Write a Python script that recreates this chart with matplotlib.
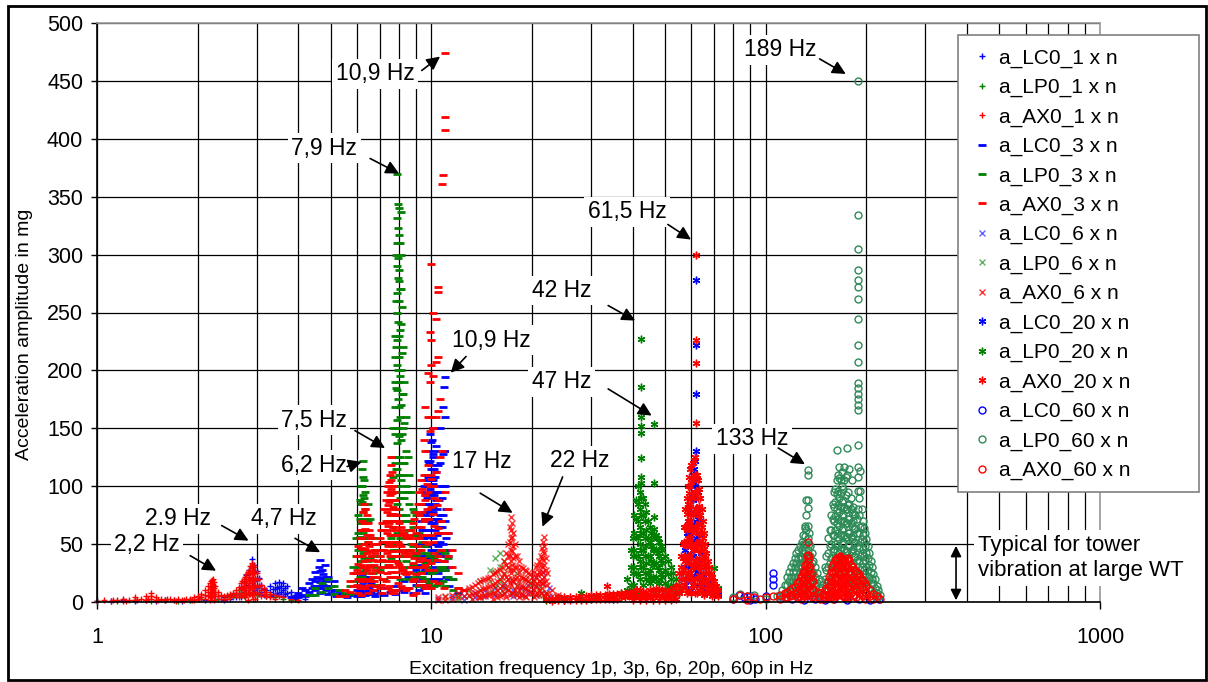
import matplotlib
matplotlib.use("Agg")
import matplotlib.pyplot as plt
from matplotlib.patches import Rectangle
from matplotlib.ticker import FixedLocator, LogLocator, NullFormatter

plt.rcParams['font.family'] = ['Liberation Sans', 'DejaVu Sans']

# each series: (frequency in Hz, [amplitudes in mg read at that frequency])
lc0_1 = [(1.0, [1]), (1.1, [1]), (1.2, [2]), (1.3, [1]), (1.4, [2]), (1.5, [1]), (1.6, [2]),
         (1.7, [2]), (1.8, [1]), (1.9, [2]), (2.0, [3]), (2.1, [2]), (2.2, [4]), (2.3, [3]),
         (2.4, [4, 2]), (2.5, [6, 3]), (2.6, [8, 4]), (2.7, [13, 8, 4]), (2.75, [17, 10]),
         (2.8, [23, 15, 8]), (2.85, [28, 20, 12]), (2.9, [37, 31, 24, 16, 8]),
         (2.95, [32, 26, 18, 10]), (3.0, [27, 20, 12]), (3.05, [21, 14, 7]), (3.1, [15, 9]),
         (3.15, [11, 6]), (3.2, [10, 5]), (3.3, [14, 9, 5]), (3.35, [11, 6]), (3.4, [16, 11, 6]),
         (3.45, [13, 8]), (3.5, [17, 12, 7]), (3.55, [14, 9]), (3.6, [16, 10, 5]), (3.65, [12, 7]),
         (3.7, [14, 8]), (3.8, [9, 5]), (3.9, [6, 3]), (4.0, [4]), (4.2, [3])]
lp0_1 = [(1.0, [1]), (1.15, [1]), (1.3, [2]), (1.45, [1]), (1.6, [2]), (1.75, [1]), (1.9, [2]),
         (2.05, [3]), (2.3, [3]), (2.45, [5]), (2.55, [7, 4]), (2.65, [10, 6]), (2.75, [9, 5]),
         (2.85, [7]), (3.0, [6]), (3.2, [5]), (3.4, [4]), (3.6, [3]), (3.8, [2])]
ax0_1 = [(1.0, [1]), (1.05, [2]), (1.1, [1]), (1.15, [2]), (1.2, [3, 1]), (1.25, [2]), (1.3, [4, 2]),
         (1.35, [3]), (1.4, [5, 2]), (1.45, [8, 5, 3]), (1.5, [4, 2]), (1.55, [3]), (1.6, [2]),
         (1.65, [3]), (1.7, [2]), (1.75, [3]), (1.8, [2]), (1.85, [3]), (1.9, [3]), (1.95, [4, 2]),
         (2.0, [5, 3]), (2.05, [7, 4]), (2.1, [10, 6, 3]), (2.15, [14, 9, 5]), (2.2, [18, 13, 8, 4]),
         (2.23, [20, 15, 10]), (2.26, [14, 9, 5]), (2.3, [9, 5]), (2.35, [6, 3]), (2.4, [5, 3]),
         (2.45, [6, 3]), (2.5, [7, 4]), (2.55, [8, 5]), (2.6, [10, 6]), (2.65, [13, 8, 4]),
         (2.7, [16, 11, 6]), (2.75, [20, 14, 8]), (2.8, [24, 18, 12, 6]), (2.85, [28, 22, 16, 10]),
         (2.9, [34, 29, 24, 18, 12, 6]), (2.95, [30, 25, 19, 13, 7]), (3.0, [25, 19, 13, 7]),
         (3.05, [20, 14, 8]), (3.1, [15, 10, 5]), (3.15, [12, 7]), (3.2, [9, 5]), (3.3, [7, 4]),
         (3.4, [6, 3]), (3.5, [5]), (3.6, [4]), (3.8, [3]), (4.0, [2]),
         (2.87, [31, 25, 19, 13, 7]), (2.92, [32, 27, 21, 15, 9, 3]), (2.97, [27, 21, 15, 9, 3]),
         (2.83, [26, 20, 14, 8, 2]), (2.78, [22, 16, 10, 4]), (2.72, [18, 12, 6]),
         (2.18, [16, 11, 6, 2]), (2.21, [19, 14, 9, 4]), (2.24, [17, 12, 7, 2]), (1.12, [2]),
         (1.22, [1]), (1.32, [2]), (1.42, [3]), (1.52, [2]), (1.62, [3]), (1.72, [1]), (1.82, [2]),
         (1.92, [2]), (2.02, [3])]

lc0_3 = [(3.8, [4]), (4.0, [8, 4]), (4.1, [12, 6]), (4.2, [10, 5]), (4.3, [16, 9]), (4.4, [20, 12, 6]),
         (4.45, [14]), (4.5, [26, 18, 10]), (4.55, [22, 14]), (4.6, [30, 21, 12]),
         (4.65, [36, 27, 17, 8]), (4.7, [28, 20, 12]), (4.75, [24, 15]), (4.8, [32, 22, 13]),
         (4.85, [18, 10]), (4.9, [22, 14, 7]), (5.0, [14, 8]), (5.1, [18, 10]), (5.2, [10, 5]),
         (5.3, [8]), (5.4, [6]), (5.6, [4]), (5.8, [6]), (6.0, [10, 5]), (6.1, [18, 10]),
         (6.2, [24, 15, 8]), (6.3, [20, 12]), (6.4, [14, 7]), (6.5, [22, 13]), (6.6, [16, 9]),
         (6.8, [10, 5]), (7.0, [8]), (7.2, [12, 6]), (7.5, [9]), (7.8, [14, 7]), (8.0, [10]),
         (8.3, [18, 9]), (8.5, [22, 12]), (8.8, [30, 18, 8]), (9.0, [42, 28, 15]),
         (9.2, [55, 38, 22, 10]), (9.3, [70, 50, 30]), (9.4, [85, 62, 40, 20]),
         (9.5, [100, 78, 55, 32, 12]), (9.6, [92, 72, 50, 28]), (9.7, [110, 90, 70, 48, 25]),
         (9.8, [130, 108, 85, 62, 38, 15]), (9.85, [120, 95, 70]),
         (9.9, [145, 122, 98, 75, 50, 25]), (9.95, [105, 80]),
         (10.0, [160, 138, 115, 92, 68, 45, 20]), (10.05, [140, 118, 95, 72, 50, 28]),
         (10.1, [125, 102, 78, 55, 30]), (10.15, [150, 128, 105, 82]),
         (10.2, [115, 92, 68, 45, 20]), (10.3, [95, 72, 50, 28]), (10.35, [135, 112, 88]),
         (10.4, [80, 58, 35]), (10.5, [70, 48, 25]), (10.6, [100, 75, 52, 30]), (10.7, [60, 40, 18]),
         (10.8, [168, 45]), (10.9, [186, 35]), (11.0, [194, 28]), (11.1, [45, 22]), (11.3, [30, 14]),
         (11.5, [20]), (12.0, [8]),
         (6.05, [14, 7]), (6.15, [20, 12, 5]), (6.25, [26, 17, 9]), (6.35, [22, 14, 6]),
         (6.45, [18, 10]), (6.7, [14, 7]), (9.25, [48, 32, 18]), (9.45, [75, 55, 35, 15]),
         (9.55, [95, 72, 50, 28, 8]), (9.65, [105, 85, 62, 40, 18]),
         (9.75, [122, 100, 78, 56, 34, 12]), (10.25, [130, 108, 85, 62, 40, 18]),
         (10.45, [118, 95, 72, 50, 28]), (10.55, [88, 65, 42, 20]), (10.65, [150, 120, 95, 70, 45]),
         (10.75, [90, 65, 40]), (10.85, [128, 100, 75, 50]), (10.95, [160, 130, 100, 70, 45]),
         (11.05, [80, 55, 30]), (11.2, [60, 40, 20])]
lp0_3 = [(4.3, [6]), (4.5, [12, 6]), (4.7, [16, 9]), (4.9, [20, 12]), (5.1, [14, 7]), (5.3, [10]),
         (5.5, [8]), (5.7, [14, 7]), (5.85, [30, 18]), (5.95, [55, 40, 25]), (6.05, [75, 60, 45, 30]),
         (6.15, [100, 85, 68, 50, 35]), (6.25, [122, 108, 92, 78, 60, 42, 25]),
         (6.35, [95, 80, 62, 45, 28]), (6.45, [85, 70, 52, 35]), (6.55, [72, 55, 38, 20]),
         (6.7, [55, 40, 25]), (6.85, [45, 30, 15]), (7.0, [40, 28]), (7.2, [52, 35, 20]),
         (7.4, [70, 50, 32]), (7.55, [95, 75, 55, 38]), (7.7, [150, 125, 108, 88, 65, 45]),
         (7.8, [230, 212, 190, 168, 145, 120, 95, 70, 50]),
         (7.9, [370, 332, 310, 290, 267, 250, 226, 205, 183, 157, 137, 115, 85, 60, 35]),
         (7.95, [344, 323, 297, 280, 242, 200, 175, 150, 125, 100, 75]),
         (8.0, [340, 317, 287, 277, 260, 230, 212, 190, 168, 143, 110, 80]),
         (8.1, [337, 300, 270, 240, 200, 170, 140, 105, 70, 40]),
         (8.25, [220, 180, 150, 120, 95, 70, 45]), (8.4, [160, 130, 100, 75, 55, 35]),
         (8.6, [110, 85, 62, 45, 30]), (8.8, [80, 65, 48, 32]), (9.0, [75, 58, 40, 25]),
         (9.2, [60, 45, 30]), (9.4, [52, 38, 22]), (9.7, [42, 30, 18]), (10.0, [35, 25, 12]),
         (10.4, [40, 28, 15]), (10.8, [45, 30, 18]), (11.2, [38, 22]), (11.6, [20, 10]), (12.0, [12]),
         (7.85, [300, 260, 220, 185, 150, 115, 80, 45]),
         (8.05, [310, 270, 235, 195, 160, 125, 90, 55, 20]),
         (8.15, [255, 215, 180, 145, 110, 75, 40]), (8.3, [190, 155, 120, 90, 60, 30]),
         (8.5, [125, 95, 70, 45, 20]), (8.7, [95, 70, 50, 30]), (8.9, [78, 58, 40, 22]),
         (6.2, [115, 100, 86, 70, 55, 40, 22]), (6.3, [105, 90, 72, 55, 38, 20]),
         (6.1, [88, 72, 56, 40, 22]), (9.1, [65, 48, 30, 14]), (9.3, [58, 42, 26]),
         (9.55, [48, 34, 20]), (9.85, [40, 28, 16]), (10.2, [38, 26, 14]), (10.6, [44, 30, 16]),
         (11.0, [42, 28, 14])]
ax0_3 = [(5.3, [5]), (5.5, [10, 5]), (5.7, [18, 9]), (5.85, [25, 14]), (6.0, [40, 28, 15]),
         (6.1, [55, 40, 25, 12]), (6.2, [70, 55, 40, 25]), (6.3, [85, 68, 50, 35, 20]),
         (6.4, [75, 58, 42, 28]), (6.5, [62, 48, 32, 18]), (6.6, [55, 40, 25]), (6.75, [45, 32, 18]),
         (6.9, [50, 35, 22]), (7.05, [62, 45, 30, 15]), (7.2, [80, 62, 45, 30]),
         (7.35, [95, 78, 60, 42, 25]), (7.5, [110, 92, 75, 58, 40, 22]),
         (7.6, [125, 105, 88, 70, 52, 35]), (7.7, [100, 82, 65, 48, 30]), (7.8, [88, 70, 52, 35]),
         (7.9, [75, 58, 40, 22]), (8.0, [68, 50, 32]), (8.15, [62, 45, 28]), (8.3, [58, 42, 25]),
         (8.5, [55, 40, 25]), (8.7, [62, 45, 30]), (8.9, [72, 55, 38, 20]), (9.1, [85, 65, 48, 30]),
         (9.3, [105, 85, 65, 45, 25]), (9.5, [140, 110, 70, 30]),
         (9.6, [168, 130, 88]), (9.75, [198, 160, 118, 72]),
         (9.9, [233, 190, 148, 100]), (10.0, [292, 226, 205, 160, 110]),
         (10.15, [250, 195, 150, 100]), (10.3, [244, 207, 160, 112]),
         (10.45, [272, 268, 212, 165]), (10.6, [175, 125]),
         (10.75, [361, 130]), (10.8, [369]), (11.0, [474, 419, 408, 95]),
         (11.2, [80, 60, 40]), (11.5, [45, 30]), (12.0, [25, 12]), (12.5, [10]),
         (6.05, [48, 33, 20, 8]), (6.15, [62, 47, 32, 18, 6]), (6.25, [78, 62, 46, 30, 14]),
         (6.35, [80, 63, 46, 30, 12]), (6.45, [68, 52, 36, 20, 8]), (6.55, [58, 44, 30, 15]),
         (6.7, [50, 36, 22, 10]), (6.8, [42, 28, 14]), (7.0, [55, 40, 26, 12]),
         (7.1, [68, 52, 36, 20, 8]), (7.3, [88, 70, 52, 35, 18]), (7.4, [100, 84, 66, 48, 30, 12]),
         (7.45, [104, 86, 68, 50, 32, 14]), (7.55, [118, 98, 80, 62, 44, 26, 10]),
         (7.65, [112, 94, 76, 58, 40, 22, 8]), (7.75, [95, 76, 58, 40, 22, 8]),
         (7.85, [80, 62, 44, 26, 10]), (7.95, [70, 52, 34, 16]), (8.1, [65, 48, 30, 14]),
         (8.2, [60, 44, 28, 12]), (8.4, [56, 40, 24, 10]), (8.6, [58, 42, 26, 12]),
         (8.8, [68, 50, 34, 18, 6]), (9.0, [78, 60, 42, 24, 8]), (9.2, [95, 75, 55, 35, 15]),
         (9.4, [98, 78, 58, 38, 18]), (9.55, [92, 72, 52, 32, 12]), (9.7, [102, 80, 58, 36, 15]),
         (9.8, [95, 72, 50, 28]), (9.95, [106, 82, 58, 34, 12]), (10.1, [100, 76, 52, 28]),
         (10.2, [90, 66, 42, 18]), (10.4, [84, 60, 36]), (10.5, [88, 64, 40, 16]),
         (10.7, [70, 45]), (10.9, [60, 35, 12])]

lc0_6 = [(10.5, [3]), (11.5, [4]), (12.5, [5, 2]), (13.5, [8, 4]), (14.5, [10, 5]), (15.5, [12, 6]),
         (16.5, [14, 8]), (17.5, [18, 10, 5]), (18.5, [12, 6]), (19.5, [15, 8]), (20.5, [22, 14, 6]),
         (21.5, [26, 16, 8]), (22.5, [12, 5]), (24.0, [4]), (26.0, [2])]
lp0_6 = [(11.0, [4]), (12.0, [6, 3]), (13.0, [10, 5]), (14.0, [18, 10, 4]), (15.0, [28, 18, 9]),
         (15.5, [38, 26, 14]), (16.0, [42, 30, 18, 8]), (16.5, [35, 24, 12]), (17.0, [30, 20, 10]),
         (18.0, [25, 15, 7]), (19.0, [20, 12]), (20.0, [16, 8]), (21.0, [12, 6]), (22.0, [8]),
         (24.0, [4])]
ax0_6 = [(10.5, [4, 2]), (11.0, [5, 2]), (11.5, [6, 3]), (12.0, [8, 4]), (12.5, [10, 5]),
         (13.0, [12, 6]), (13.5, [15, 8]), (14.0, [18, 10, 4]), (14.5, [20, 12, 6]),
         (15.0, [22, 14, 7]), (15.5, [25, 16, 8]), (16.0, [28, 20, 12, 5]), (16.5, [35, 25, 16, 8]),
         (17.0, [50, 40, 30, 20, 10]), (17.3, [73, 62, 55, 45, 35, 25, 15]),
         (17.6, [60, 48, 38, 28, 18, 8]), (18.0, [40, 30, 22, 14, 6]), (18.5, [30, 22, 14, 7]),
         (19.0, [28, 20, 12, 5]), (19.5, [25, 18, 10]), (20.0, [22, 15, 8]), (20.5, [30, 22, 14, 6]),
         (21.0, [35, 26, 18, 10]), (21.5, [47, 38, 30, 20, 12]), (21.8, [56, 48, 42, 32, 22]),
         (22.2, [25, 15, 7]), (23.0, [10, 5]), (24.0, [6]),
         (13.25, [13, 7, 3]), (13.75, [16, 9, 4]), (14.25, [19, 11, 5]), (14.75, [21, 13, 6]),
         (15.25, [24, 15, 8, 3]), (15.75, [27, 18, 10, 4]), (16.25, [30, 22, 14, 6]),
         (16.75, [42, 32, 22, 12, 4]), (17.15, [65, 52, 40, 28, 16, 6]),
         (17.45, [68, 56, 44, 32, 20, 8]), (17.8, [50, 40, 30, 20, 10]), (18.25, [35, 26, 18, 10, 4]),
         (18.75, [29, 21, 13, 6]), (19.25, [27, 19, 11, 4]), (19.75, [24, 16, 9]),
         (20.25, [26, 18, 10, 4]), (20.75, [32, 24, 16, 8]), (21.25, [40, 32, 24, 16, 8]),
         (21.65, [52, 44, 36, 26, 16, 6]), (22.0, [38, 28, 18, 8])]

lc0_20 = [(25.0, [2]), (30.0, [3]), (35.0, [3]), (40.0, [4]), (45.0, [5]), (50.0, [6]), (54.0, [8]),
          (56.0, [20, 10]), (57.5, [45, 30, 15]), (58.5, [70, 50, 30]), (59.5, [90, 70, 50, 25]),
          (60.5, [110, 88, 65, 40, 15]), (62.0, [278, 222, 180, 130, 105, 80, 55, 30]),
          (62.8, [95, 72, 50, 25]), (63.5, [70, 50, 30]), (64.5, [50, 35, 18]), (66.0, [30, 15]),
          (68.0, [18, 8]), (70.0, [10]), (72.0, [6]),
          (58.0, [60, 40, 20]), (59.0, [80, 60, 40, 20]), (60.0, [100, 78, 55, 32, 10]),
          (61.0, [115, 92, 68, 45, 22]), (61.5, [122, 100, 76, 52, 28]), (63.0, [80, 58, 36, 14]),
          (64.0, [60, 42, 24]), (65.0, [40, 24, 10])]
lp0_20 = [(22.0, [2]), (25.0, [3]), (28.0, [8, 3]), (31.0, [4]), (34.0, [5]), (37.0, [8, 4]),
          (38.5, [20, 10]), (39.5, [45, 30, 15]), (40.5, [75, 60, 45, 30, 15]),
          (41.5, [100, 85, 70, 55, 40, 25]),
          (42.3, [227, 186, 160, 152, 146, 124, 108, 103, 90, 75, 60, 45, 30]),
          (43.5, [85, 70, 55, 40, 25]), (44.5, [70, 55, 40, 25]), (45.5, [60, 48, 35, 22]),
          (46.4, [154, 103, 73, 63, 56, 45, 32, 20]), (47.5, [55, 42, 30, 18]), (48.5, [48, 36, 24]),
          (50.0, [40, 28, 16]), (52.0, [30, 20, 10]), (54.0, [20, 10]), (56.0, [10]),
          (70.0, [29, 15]), (72.0, [12]),
          (40.0, [55, 40, 25, 10]), (41.0, [88, 72, 56, 40, 24, 8]), (42.0, [95, 80, 65, 50, 35, 20, 8]),
          (43.0, [90, 75, 60, 45, 30, 15]), (44.0, [78, 62, 48, 34, 20, 6]), (45.0, [65, 52, 40, 28, 16]),
          (46.0, [58, 46, 34, 22, 10]), (47.0, [58, 46, 34, 22, 10]), (48.0, [52, 40, 28, 16]),
          (49.0, [45, 34, 22, 10]), (51.0, [35, 24, 14]), (53.0, [25, 15, 6]), (55.0, [15, 8])]
ax0_20 = [(22.0, [3]), (24.0, [4, 2]), (26.0, [4, 2]), (28.0, [5, 2]), (30.0, [6, 3]), (32.0, [6, 3]),
          (33.6, [14, 6]), (35.0, [7, 3]), (37.0, [8, 4]), (39.0, [9, 5]), (41.0, [10, 5]),
          (43.0, [9, 5]), (45.0, [10, 5]), (47.0, [11, 6]), (49.0, [10, 5]), (51.0, [9, 4]),
          (53.0, [12, 6]), (55.0, [25, 15, 8]), (56.5, [50, 38, 25, 12]), (57.5, [80, 65, 50, 35, 20]),
          (58.5, [100, 85, 70, 55, 40, 25]), (59.5, [115, 100, 85, 70, 55, 40, 25]),
          (60.5, [120, 105, 90, 75, 60, 45, 30, 15]), (61.2, [123, 108, 92, 78, 62, 46, 30, 15]),
          (62.0, [300, 226, 206, 155, 110, 95, 80, 65, 50, 35]), (62.8, [105, 90, 75, 60, 45, 30]),
          (63.8, [90, 75, 60, 45, 30, 15]), (65.0, [70, 55, 40, 25]), (66.0, [50, 38, 25, 12]),
          (67.0, [35, 25, 15]), (68.5, [25, 15, 8]), (70.0, [18, 10]), (72.0, [10, 5]),
          (23.0, [3, 1]), (25.0, [4, 2]), (27.0, [4, 2]), (29.0, [5, 2]), (31.0, [6, 3]), (33.0, [6, 3]),
          (34.0, [7, 3]), (36.0, [7, 3]), (38.0, [8, 4]), (40.0, [9, 5, 2]), (42.0, [10, 5, 2]),
          (44.0, [9, 5, 2]), (46.0, [10, 6, 2]), (48.0, [11, 6, 2]), (50.0, [10, 5, 2]),
          (52.0, [10, 5, 2]), (54.0, [14, 8, 3]),
          (56.0, [40, 30, 20, 10]), (57.0, [65, 52, 40, 28, 15]), (58.0, [90, 76, 62, 48, 34, 20, 8]),
          (59.0, [108, 94, 80, 66, 52, 38, 24, 10]), (60.0, [118, 104, 90, 76, 62, 48, 34, 20, 8]),
          (61.6, [125, 110, 95, 80, 65, 50, 35, 20, 8]), (62.4, [110, 95, 80, 65, 50, 35, 20, 8]),
          (63.3, [98, 83, 68, 53, 38, 23, 10]), (64.4, [80, 65, 50, 35, 20, 8]),
          (65.5, [60, 46, 32, 18, 6]), (66.5, [42, 30, 18, 8]), (67.5, [30, 20, 10]),
          (69.0, [22, 12, 5]), (71.0, [14, 7])]

lc0_60 = [(80.0, [3]), (83.0, [6]), (86.0, [4]), (90.0, [5, 2]), (93.0, [3]), (100.0, [5]),
          (105.0, [25, 20, 15]), (110.0, [5]), (120.0, [3]), (130.0, [2]), (140.0, [3]), (150.0, [2]),
          (160.0, [3]), (175.0, [8, 2]), (190.0, [3]), (205.0, [2]), (218.0, [3])]
lp0_60 = [(80.0, [4]), (84.0, [7]), (88.0, [5]), (92.0, [6]), (100.0, [3]), (108.0, [5]),
          (112.0, [10, 5]), (116.0, [22, 15, 8]), (119.0, [30, 22, 14, 6]), (122.0, [38, 30, 22, 14, 6]),
          (125.0, [45, 38, 30, 22, 14]), (128.0, [52, 45, 38, 30, 22, 12]),
          (131.0, [66, 64, 57, 50, 42, 34, 25]), (133.5, [114, 110, 88, 81, 66, 55, 45, 35, 25]),
          (136.0, [48, 40, 32, 24, 14]), (139.0, [35, 26, 18, 10]), (142.0, [25, 16, 8]),
          (146.0, [18, 10]), (150.0, [30, 20, 10]), (154.0, [55, 42, 30, 18]),
          (157.0, [75, 62, 50, 38, 26, 14]), (160.0, [95, 82, 70, 58, 46, 34, 22]),
          (163.0, [131, 105, 93, 80, 68, 56, 44, 32, 20]), (166.0, [117, 107, 90, 78, 66, 54, 42, 30]),
          (169.0, [112, 100, 86, 74, 62, 50, 38, 26]), (172.0, [117, 105, 82, 70, 58, 46, 34, 22]),
          (175.0, [133, 110, 80, 68, 56, 44, 32, 20]), (178.0, [115, 85, 72, 60, 48, 36, 24]),
          (181.0, [105, 78, 66, 54, 42, 30, 18]), (184.0, [76, 64, 52, 40, 28, 16]),
          (187.0, [72, 60, 48, 36, 24]),
          (189.0, [450, 334, 305, 287, 278, 272, 262, 244, 222, 207, 189, 185, 180, 175, 170, 166,
                   136, 117, 108, 96, 80]),
          (192.0, [113, 96, 65, 52, 40, 28]), (195.0, [70, 58, 46, 34, 22]), (198.0, [60, 48, 36, 24]),
          (202.0, [48, 38, 28, 18]), (206.0, [35, 26, 16]), (210.0, [24, 16, 8]), (215.0, [14, 8]),
          (220.0, [6]),
          (152.0, [40, 28, 16, 6]), (155.5, [62, 48, 34, 20, 8]), (158.5, [85, 72, 58, 44, 30, 16, 6]),
          (161.5, [98, 86, 74, 62, 50, 38, 26, 14]), (164.5, [110, 96, 84, 72, 60, 48, 36, 24, 12]),
          (167.5, [105, 94, 82, 70, 58, 46, 34, 22, 10]), (170.5, [98, 88, 76, 64, 52, 40, 28, 16]),
          (173.5, [108, 92, 80, 68, 56, 44, 32, 20, 8]), (176.5, [95, 84, 72, 60, 48, 36, 24, 12]),
          (179.5, [90, 80, 68, 56, 44, 32, 20, 8]), (182.5, [82, 70, 58, 46, 34, 22, 10]),
          (185.5, [75, 63, 51, 39, 27, 15]), (190.5, [90, 75, 60, 47, 35, 23, 11]),
          (193.5, [80, 66, 54, 42, 30, 18, 6]), (196.5, [64, 52, 40, 28, 16]),
          (200.0, [54, 42, 30, 18, 8]), (204.0, [42, 32, 22, 12]), (208.0, [30, 20, 10]),
          (212.0, [20, 12, 5]), (217.0, [10, 4]),
          (114.0, [15, 8]), (117.5, [26, 18, 10]), (120.5, [34, 26, 18, 10]),
          (123.5, [42, 34, 26, 18, 10]), (126.5, [48, 40, 32, 24, 16, 8]),
          (129.5, [58, 50, 42, 34, 26, 18, 10]), (132.0, [88, 75, 62, 50, 38, 26, 14]),
          (134.5, [60, 50, 40, 30, 20, 10]), (137.5, [42, 34, 26, 18, 10]), (140.5, [30, 22, 14, 6]),
          (144.0, [20, 12, 5])]
ax0_60 = [(80.0, [3]), (84.0, [6]), (88.0, [5, 2]), (92.0, [4]), (96.0, [3]), (100.0, [4]), (105.0, [5]),
          (110.0, [6, 3]), (114.0, [8, 4]), (118.0, [10, 5]), (122.0, [13, 7]), (126.0, [18, 11, 5]),
          (129.0, [25, 18, 11, 5]), (131.5, [32, 26, 19, 12, 5]), (133.5, [52, 41, 35, 28, 21, 14, 7]),
          (136.0, [30, 23, 16, 9]), (139.0, [18, 11, 5]), (143.0, [9, 4]), (148.0, [7, 3]),
          (152.0, [12, 6]), (155.0, [22, 14, 7]), (158.0, [30, 22, 14, 6]), (161.0, [36, 28, 20, 12, 5]),
          (164.0, [38, 30, 22, 14, 6]), (167.0, [40, 32, 24, 16, 8]), (170.0, [37, 29, 21, 13, 6]),
          (173.0, [35, 27, 19, 11, 4]), (176.0, [38, 30, 22, 14, 6]), (180.0, [32, 24, 16, 8]),
          (184.0, [28, 20, 12, 5]), (188.0, [25, 18, 10]), (192.0, [22, 15, 8]), (196.0, [18, 11, 5]),
          (200.0, [14, 8]), (205.0, [10, 5]), (210.0, [7, 3]), (215.0, [5]), (220.0, [3]),
          (130.0, [28, 21, 14, 7]), (132.5, [40, 32, 24, 16, 8]), (134.5, [38, 30, 22, 14, 6]),
          (137.5, [24, 17, 10, 4]), (159.5, [33, 25, 17, 9, 3]), (162.5, [37, 29, 21, 13, 5]),
          (165.5, [39, 31, 23, 15, 7]), (168.5, [38, 30, 22, 14, 6]), (171.5, [36, 28, 20, 12, 4]),
          (174.5, [37, 29, 21, 13, 5]), (178.0, [35, 27, 19, 11, 4]), (182.0, [30, 22, 14, 6]),
          (186.0, [27, 19, 11, 4]), (190.0, [24, 16, 8]), (194.0, [20, 13, 6]), (198.0, [16, 9, 3]),
          (156.5, [26, 18, 10, 4]), (153.5, [17, 10, 4]), (150.0, [10, 4]), (145.0, [8, 3]),
          (124.0, [16, 9, 4]), (127.5, [22, 15, 8, 3]), (120.0, [12, 6]), (116.0, [9, 4])]

labels = ['a_LC0_1 x n', 'a_LP0_1 x n', 'a_AX0_1 x n',
          'a_LC0_3 x n', 'a_LP0_3 x n', 'a_AX0_3 x n',
          'a_LC0_6 x n', 'a_LP0_6 x n', 'a_AX0_6 x n',
          'a_LC0_20 x n', 'a_LP0_20 x n', 'a_AX0_20 x n',
          'a_LC0_60 x n', 'a_LP0_60 x n', 'a_AX0_60 x n']
series = [lc0_1, lp0_1, ax0_1, lc0_3, lp0_3, ax0_3, lc0_6, lp0_6, ax0_6,
          lc0_20, lp0_20, ax0_20, lc0_60, lp0_60, ax0_60]

x_ticks = [1, 10, 100, 1000]
y_ticks = list(range(0, 501, 50))

# text, text position, arrow start, arrow tip (Hz, mg)
notes = [
    ('10,9 Hz', (6.78, 456), (9.36, 459), (10.62, 471)),
    ('7,9 Hz', (4.78, 392), (6.56, 383), (8.01, 370)),
    ('10,9 Hz', (15.1, 226), (12.7, 212), (11.43, 198)),
    ('7,5 Hz', (4.46, 157), (5.91, 148), (7.27, 133)),
    ('6,2 Hz', (4.46, 118), (5.6, 117), (6.19, 121)),
    ('2.9 Hz', (1.75, 72), (2.36, 66), (2.84, 53)),
    ('2,2 Hz', (1.41, 50), (1.9, 40), (2.27, 27)),
    ('4,7 Hz', (3.63, 72), (3.91, 55), (4.65, 43)),
    ('17 Hz', (14.2, 121), (14.0, 94), (17.5, 77)),
    ('22 Hz', (27.7, 122), (24.7, 108), (21.5, 65)),
    ('42 Hz', (24.5, 269), (33.8, 256), (40.7, 243)),
    ('47 Hz', (24.5, 190), (33.8, 184), (45.6, 161)),
    ('61,5 Hz', (38.5, 337), (51.0, 326), (59.8, 313)),
    ('133 Hz', (91.0, 141), (109, 133), (131, 119)),
    ('189 Hz', (110.4, 477), (145, 469), (173.6, 456)),
]

# colour, marker, size, edge width, alpha, hollow
styles = [
    ('#0000FF', '+', 5, 1.0, 1.0, False), ('#008000', '+', 5, 1.0, 1.0, False),
    ('#FF0000', '+', 5, 1.0, 1.0, False),
    ('#0000FF', '_', 6, 2.0, 1.0, False), ('#008000', '_', 6, 2.0, 1.0, False),
    ('#FF0000', '_', 6, 2.0, 1.0, False),
    ('#0000FF', 'x', 4.5, 1.0, 0.6, False), ('#008000', 'x', 4.5, 1.0, 0.6, False),
    ('#FF0000', 'x', 4.5, 1.0, 0.8, False),
    ('#0000FF', (6, 2, 0), 5.5, 1.0, 1.0, False), ('#008000', (6, 2, 0), 5.5, 1.0, 1.0, False),
    ('#FF0000', (6, 2, 0), 5.5, 1.0, 1.0, False),
    ('#0000FF', 'o', 5, 1.0, 1.0, True), ('#2E8B57', 'o', 5, 1.0, 1.0, True),
    ('#FF0000', 'o', 5, 1.0, 1.0, True),
]

W, H = 1208, 682
fig = plt.figure(figsize=(W / 100, H / 100), dpi=100)
ax = fig.add_axes([97 / W, 1 - 602 / H, (1100 - 97) / W, (602 - 23) / H])

handles = []
for data, label, (col, mk, ms, mew, alpha, hollow) in zip(series, labels, styles):
    xs, ys = [], []
    for f, amps in data:
        for a in amps:
            xs.append(f)
            ys.append(a)
    h, = ax.plot(xs, ys, linestyle='none', marker=mk, color=col, ms=ms, mew=mew,
                 alpha=alpha, mfc='none' if hollow else col, label=label, clip_on=False)
    handles.append(h)

ax.set_xscale('log')
ax.set_xlim(1, 1000)
ax.set_ylim(0, 500)
ax.xaxis.set_major_locator(FixedLocator(x_ticks))
ax.set_xticklabels([str(t) for t in x_ticks])
ax.xaxis.set_minor_locator(LogLocator(base=10, subs=range(2, 10)))
ax.xaxis.set_minor_formatter(NullFormatter())
ax.set_yticks(y_ticks)
ax.tick_params(axis='x', which='major', length=5, width=1, labelsize=15.5, pad=13)
ax.tick_params(axis='x', which='minor', length=0)
ax.tick_params(axis='y', length=4, width=1, labelsize=15.5, pad=6)
ax.set_axisbelow(True)
ax.grid(which='both', axis='x', color='black', lw=0.9)
ax.grid(which='major', axis='y', color='black', lw=0.9)
for s in ['left', 'bottom']:
    ax.spines[s].set_color('black')
    ax.spines[s].set_linewidth(1.2)
for s in ['top', 'right']:
    ax.spines[s].set_color('#9a9a9a')
    ax.spines[s].set_linewidth(1.2)

ax.set_ylabel('Acceleration amplitude in mg', fontsize=14)
ax.yaxis.set_label_coords(-0.064, 0.463)
ax.set_xlabel('Excitation frequency 1p, 3p, 6p, 20p, 60p in Hz', fontsize=14)
ax.xaxis.set_label_coords(0.513, -0.102)

for txt, pos, start, tip in notes:
    ax.text(pos[0], pos[1], txt, ha='center', va='center', fontsize=16.5, zorder=6,
            bbox=dict(boxstyle='square,pad=0.15', fc='white', ec='none'))
    ax.annotate('', xy=tip, xytext=start, zorder=7,
                arrowprops=dict(arrowstyle='-|>', color='black', lw=1.2,
                                mutation_scale=20, shrinkA=0, shrinkB=0))

ax.text(432, 38, 'Typical for tower\nvibration at large WT', ha='left', va='center',
        fontsize=16, linespacing=1.3, zorder=6, clip_on=False,
        bbox=dict(boxstyle='square,pad=0.2', fc='white', ec='none'))
ax.annotate('', xy=(371, 1.5), xytext=(371, 48.5), zorder=7, annotation_clip=False,
            arrowprops=dict(arrowstyle='<|-|>', color='black', lw=1.2,
                            mutation_scale=16, shrinkA=0, shrinkB=0))

# legend box drawn as a figure patch so its width matches the original
fig.patches.append(Rectangle((958 / W, 1 - 492 / H), (1199 - 958) / W, (492 - 35) / H,
                             transform=fig.transFigure, fc='white', ec='#808080', lw=1.2,
                             zorder=3))
fig.legend(handles=handles, loc='upper left', bbox_to_anchor=(958 / W, 1 - 38 / H),
           bbox_transform=fig.transFigure, fontsize=15, frameon=False,
           labelspacing=0.49, handlelength=1.3, handletextpad=0.15, borderpad=0.5,
           borderaxespad=0)

fig.patches.append(Rectangle((8 / W, 2 / H), 1198 / W, 674 / H, transform=fig.transFigure,
                             fill=False, ec='black', lw=2, zorder=4))

fig.savefig('out.png', dpi=100)
